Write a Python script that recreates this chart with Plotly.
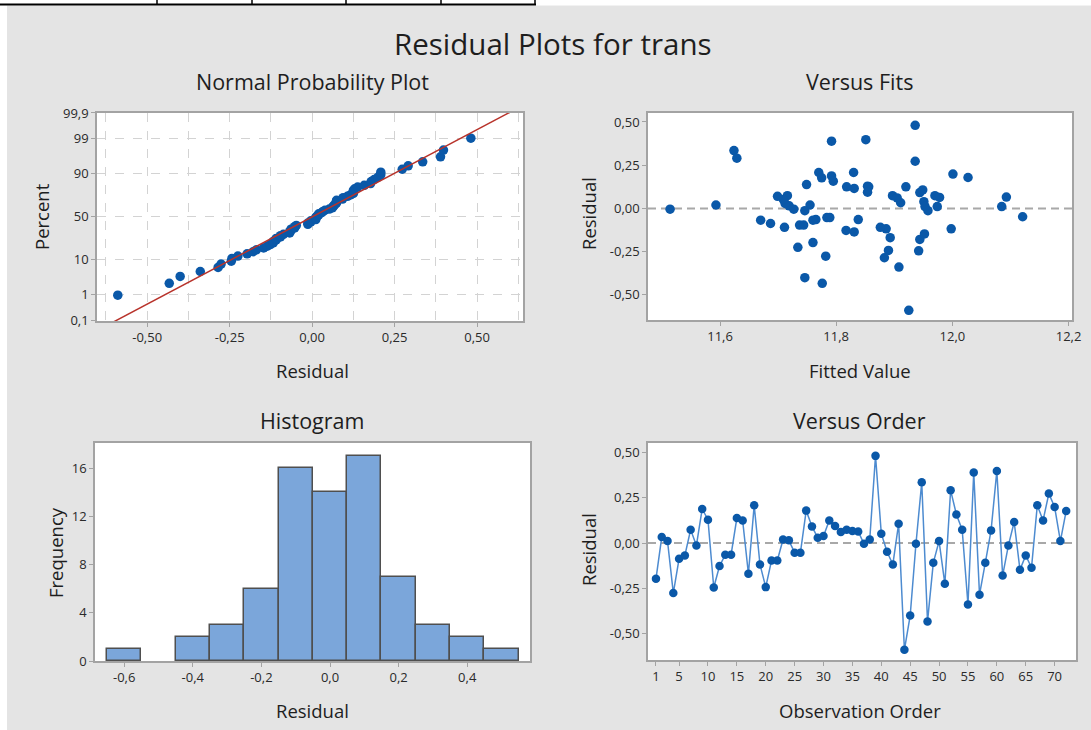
import numpy as np
import plotly.graph_objects as go
from statistics import NormalDist

# ---------------- data ----------------
observation = list(range(1, 73))
residuals = [
    -0.197, 0.033, 0.011, -0.276, -0.087, -0.068, 0.074, -0.013, 0.188, 0.129,
    -0.245, -0.127, -0.064, -0.064, 0.138, 0.125, -0.169, 0.208, -0.118, -0.243,
    -0.096, -0.096, 0.020, 0.015, -0.053, -0.053, 0.179, 0.092, 0.029, 0.039,
    0.125, 0.094, 0.061, 0.074, 0.066, 0.064, -0.004, 0.020, 0.481, 0.052,
    -0.048, -0.118, 0.107, -0.589, -0.400, -0.004, 0.335, -0.433, -0.109, 0.011,
    -0.225, 0.291, 0.158, 0.074, -0.339, 0.389, -0.285, -0.109, 0.070, 0.398,
    -0.179, -0.013, 0.116, -0.147, -0.068, -0.136, 0.208, 0.125, 0.273, 0.199,
    0.011, 0.177,
]
fitted = [
    11.760, 11.911, 11.974, 11.782, 11.687, 11.670, 11.897, 11.958, 11.792, 11.854,
    11.942, 11.817, 11.838, 11.765, 11.749, 11.856, 11.893, 11.770, 11.998, 11.890,
    11.737, 11.744, 11.593, 11.719, 11.784, 11.789, 12.027, 11.944, 11.712, 11.951,
    11.920, 11.854, 11.905, 11.716, 12.093, 11.978, 11.514, 11.755, 11.936, 11.709,
    12.121, 11.886, 11.949, 11.925, 11.746, 11.727, 11.624, 11.776, 11.711, 12.085,
    11.734, 11.629, 11.795, 11.970, 11.908, 11.792, 11.883, 11.876, 11.699, 11.851,
    11.944, 11.746, 11.831, 11.952, 11.760, 11.831, 11.830, 11.818, 11.936, 12.001,
    11.953, 11.775,
]

pct_ticks = [0.1, 1, 10, 50, 90, 99, 99.9]
pct_labels = ["0,1", "1", "10", "50", "90", "99", "99,9"]
npp_x_ticks = [-0.50, -0.25, 0.00, 0.25, 0.50]
npp_x_minor = [-0.625, -0.375, -0.125, 0.125, 0.375, 0.625]
resid_ticks = [-0.50, -0.25, 0.00, 0.25, 0.50]
fit_ticks = [11.6, 11.8, 12.0, 12.2]
hist_x_ticks = [-0.6, -0.4, -0.2, 0.0, 0.2, 0.4]
hist_y_ticks = [0, 4, 8, 12, 16]
order_ticks = [1, 5, 10, 15, 20, 25, 30, 35, 40, 45, 50, 55, 60, 65, 70]
bin_start, bin_end, bin_size = -0.65, 0.55, 0.1


def lab(v, nd):
    return f"{v:.{nd}f}".replace(".", ",")


# ---------------- derived ----------------
n = len(residuals)
res = np.array(residuals)
sorted_res = np.sort(res)
nd = NormalDist()
z_pts = [nd.inv_cdf((i - 0.3) / (n + 0.4)) for i in range(1, n + 1)]
mu, sd = res.mean(), res.std(ddof=1)
z_line = np.array([-3.6, 3.6])
x_line = mu + sd * z_line
pct_z = [nd.inv_cdf(p / 100) for p in pct_ticks]

# ---------------- style ----------------
FONT = "Open Sans"
BLUE = "#0A58A8"
LINEBLUE = "#4D8BD0"
FRAME = "#A3A3A3"
GRID = "#D3D3D3"
BG = "#E4E4E4"
TXT = "#1E1E1E"
W, H = 1091, 730


def fx(p):
    return p / W


def fy(p):
    return 1 - p / H


fig = go.Figure()
fig.add_trace(go.Scatter(x=sorted_res, y=z_pts, mode="markers",
                         marker=dict(color=BLUE, size=9.5), xaxis="x", yaxis="y"))
fig.add_trace(go.Scatter(x=x_line, y=z_line, mode="lines",
                         line=dict(color="#B8332B", width=1.5), xaxis="x", yaxis="y"))
fig.add_trace(go.Scatter(x=fitted, y=residuals, mode="markers",
                         marker=dict(color=BLUE, size=9.5), xaxis="x2", yaxis="y2"))
fig.add_trace(go.Histogram(x=residuals, xbins=dict(start=bin_start, end=bin_end, size=bin_size),
                           marker=dict(color="#7BA6DA", line=dict(color="#4F4F4F", width=1.5)),
                           xaxis="x3", yaxis="y3"))
fig.add_trace(go.Scatter(x=observation, y=residuals, mode="lines+markers",
                         line=dict(color=LINEBLUE, width=1.5),
                         marker=dict(color=BLUE, size=8.5), xaxis="x4", yaxis="y4"))

tickfont = dict(family=FONT, size=13, color="#2A2A2A")
common = dict(showline=True, mirror=True, linecolor=FRAME, linewidth=1.5,
              ticks="outside", tickcolor=FRAME, ticklen=4, tickwidth=1, automargin=False,
              zeroline=False, showgrid=False, tickfont=tickfont, tickmode="array")

fig.update_layout(
    width=W, height=H, autosize=False, margin=dict(l=0, r=0, t=0, b=0, pad=0, autoexpand=False),
    paper_bgcolor=BG, plot_bgcolor="white", showlegend=False,
    bargap=0,
    xaxis=dict(common, domain=[fx(97), fx(523)], range=[-0.652, 0.639], anchor="y",
               tickvals=npp_x_ticks, ticktext=[lab(v, 2) for v in npp_x_ticks],
               showgrid=True, gridcolor=GRID, griddash="dash", gridwidth=1,
               minor=dict(tickvals=npp_x_minor, showgrid=True, gridcolor=GRID,
                          griddash="dash", gridwidth=1, ticks="")),
    yaxis=dict(common, domain=[fy(321), fy(113)], range=[-3.11, 3.09], anchor="x",
               tickvals=pct_z, ticktext=pct_labels,
               showgrid=True, gridcolor=GRID, griddash="dash", gridwidth=1),
    xaxis2=dict(common, domain=[fx(648), fx(1072)], range=[11.476, 12.206], anchor="y2",
                tickvals=fit_ticks, ticktext=[lab(v, 1) for v in fit_ticks]),
    yaxis2=dict(common, domain=[fy(320), fy(113)], range=[-0.645, 0.552], anchor="x2",
                tickvals=resid_ticks, ticktext=[lab(v, 2) for v in resid_ticks]),
    xaxis3=dict(common, domain=[fx(95), fx(530)], range=[-0.685, 0.583], anchor="y3",
                tickvals=hist_x_ticks, ticktext=[lab(v, 1) for v in hist_x_ticks]),
    yaxis3=dict(common, domain=[fy(661), fy(443)], range=[0, 18.1], anchor="x3",
                tickvals=hist_y_ticks, ticktext=[str(v) for v in hist_y_ticks]),
    xaxis4=dict(common, domain=[fx(648), fx(1076)], range=[-0.38, 73.7], anchor="y4",
                tickvals=order_ticks, ticktext=[str(v) for v in order_ticks]),
    yaxis4=dict(common, domain=[fy(660), fy(443)], range=[-0.645, 0.552], anchor="x4",
                tickvals=resid_ticks, ticktext=[lab(v, 2) for v in resid_ticks]),
)

# background decoration: white margin strips and the table border on top
shapes = [
    dict(type="rect", xref="paper", yref="paper", x0=0, x1=fx(7), y0=0, y1=1,
         fillcolor="white", line=dict(width=0), layer="below"),
    dict(type="rect", xref="paper", yref="paper", x0=0, x1=1, y0=fy(5.5), y1=1,
         fillcolor="white", line=dict(width=0), layer="below"),
    dict(type="line", xref="paper", yref="paper", x0=0, x1=fx(536), y0=fy(4.5), y1=fy(4.5),
         line=dict(color="black", width=2)),
]
for tx in [157, 252, 346, 441, 535]:
    shapes.append(dict(type="line", xref="paper", yref="paper", x0=fx(tx), x1=fx(tx),
                       y0=fy(0), y1=fy(5), line=dict(color="black", width=1.5)))
# zero reference lines
for xa, ya in [("x2", "y2"), ("x4", "y4")]:
    shapes.append(dict(type="line", xref=f"{xa} domain", yref=ya, x0=0, x1=1, y0=0, y1=0,
                       line=dict(color="#A8A8A8", width=2, dash="8px,5px"), layer="below"))
fig.update_layout(shapes=shapes)

ann = []


def text(s, x, y, size, angle=0):
    ann.append(dict(text=s, x=fx(x), y=fy(y), xref="paper", yref="paper", showarrow=False,
                    xanchor="center", yanchor="middle", textangle=angle,
                    font=dict(family=FONT, size=size, color=TXT)))


text("Residual Plots for trans", 553, 44, 29.5)
text("Normal Probability Plot", 312, 82, 21.5)
text("Versus Fits", 860, 82, 21.5)
text("Histogram", 312, 420, 21.5)
text("Versus Order", 860, 420, 21.5)
text("Residual", 312, 370, 18.5)
text("Fitted Value", 860, 370, 18.5)
text("Residual", 312, 710, 18.5)
text("Observation Order", 860, 710, 18.5)
text("Percent", 42, 217, 18.5, -90)
text("Residual", 588, 214, 18.5, -90)
text("Frequency", 55, 553, 18.5, -90)
text("Residual", 588, 550, 18.5, -90)
fig.update_layout(annotations=ann)

fig.write_html("out.html", config=dict(displayModeBar=False),
               post_script="document.body.style.margin='0';document.body.style.overflow='hidden';")
